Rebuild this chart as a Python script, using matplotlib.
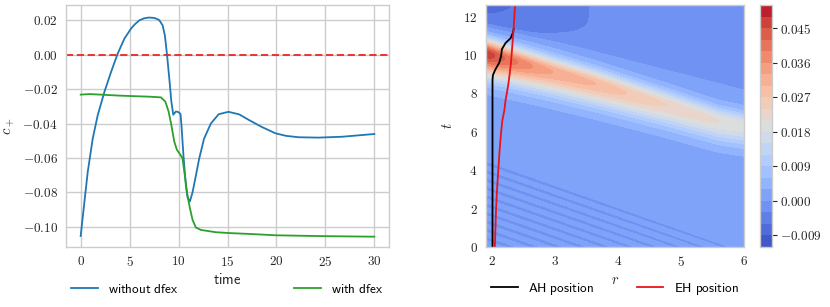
import numpy as np
import matplotlib
matplotlib.use("Agg")
import matplotlib.pyplot as plt
from matplotlib.ticker import FuncFormatter, FixedLocator

# ---------------- data: left panel (c_+ vs time) ----------------
t_without = [0, 0.38, 0.72, 1.23, 1.74, 2.42, 3.1, 3.78, 4.47, 5.15, 5.5, 6.0, 6.5, 6.96, 7.5,
             7.88, 8.04, 8.37, 8.6, 8.82, 9.05, 9.26, 9.46, 9.73, 10.0, 10.2, 10.3, 10.5,
             10.75, 10.92, 11.16, 11.43, 11.77, 12.1, 12.6, 13.3, 14.1, 15.1, 16.2, 17.2,
             18.5, 19.9, 21.0, 22.3, 24.3, 26.7, 30.0]
c_without = [-0.1054, -0.0856, -0.0682, -0.0488, -0.0352, -0.0217, -0.0101, 0.0006, 0.0094,
             0.0152, 0.0175, 0.0200, 0.0212, 0.0216, 0.0214, 0.0206, 0.0200, 0.0171, 0.0113,
             0.0000, -0.0136, -0.0271, -0.0349, -0.0330, -0.0334, -0.0345, -0.0413, -0.0587,
             -0.0762, -0.0830, -0.0853, -0.0800, -0.0703, -0.0606, -0.0489, -0.0400, -0.0346,
             -0.0332, -0.0347, -0.0380, -0.0420, -0.0457, -0.0472, -0.0480, -0.0482, -0.0477,
             -0.0461]

t_with = [0, 0.9, 2, 3, 4, 5, 6, 7.02, 7.9, 8.2, 8.65, 8.98, 9.26, 9.56, 9.83, 10.14, 10.4,
          10.68, 10.9, 11.16, 11.43, 11.77, 12.3, 13.8, 15.2, 17.2, 20, 25, 30]
c_with = [-0.0232, -0.0229, -0.0232, -0.0235, -0.0238, -0.0240, -0.0242, -0.0244, -0.0247,
          -0.0248, -0.0273, -0.0330, -0.0408, -0.0505, -0.0553, -0.0578, -0.0602, -0.0718,
          -0.0815, -0.0892, -0.0960, -0.1005, -0.1019, -0.1032, -0.1037, -0.1042, -0.1050,
          -0.1055, -0.1058]

left_labels = ["without dfex", "with dfex"]

# ---------------- data: right panel (horizons) ----------------
eh_t = [0, 1, 2, 3, 4, 5, 6, 6.6, 7.1, 7.65, 8, 8.5, 9, 9.57, 10, 10.8, 11.5, 12, 12.6]
eh_r = [2.05, 2.06, 2.07, 2.085, 2.105, 2.125, 2.15, 2.17, 2.2, 2.22, 2.24, 2.265, 2.285,
        2.305, 2.315, 2.335, 2.35, 2.36, 2.37]
ah_t = [0, 8.7, 8.95, 9.22, 9.6, 9.95, 10.3, 10.62, 10.87, 11.15, 11.35]
ah_r = [2.013, 2.013, 2.02, 2.055, 2.12, 2.15, 2.162, 2.22, 2.30, 2.335, 2.35]
right_labels = ["AH position", "EH position"]

# field description (ridge of c_+ in the (r, t) plane)
ridge_r = [1.91, 3.65, 4.77, 5.6, 6.0]          # ridge centre line
ridge_t = [10.08, 8.5, 7.4, 6.55, 6.3]
amp_r = [1.91, 2.05, 2.2, 2.41, 2.65, 2.97, 3.65, 4.14, 4.77, 5.6, 6.0]   # ridge height
amp_v = [0.046, 0.0435, 0.0405, 0.0375, 0.0345, 0.0315, 0.0285, 0.0255, 0.0225, 0.0195, 0.018]
width_r = [1.91, 6.0]
width_below = [1.15, 1.0]
width_above = [0.72, 0.68]
upper_r = [1.91, 3.71, 6.0]                      # edge of the negative upper region
upper_t = [11.6, 10.1, 8.17]
bg_levels = [0.0015, -0.0015]                    # below / above that edge
wedge_top = 4.87                                 # edge of striped lower wedge
stripe_amp = 0.0030
stripe_period = 0.435
levels = np.arange(-0.012, 0.0511, 0.003)
cbar_ticks = [-0.009, 0.0, 0.009, 0.018, 0.027, 0.036, 0.045]

# ---------------- style ----------------
plt.rcParams.update({
    "mathtext.fontset": "cm",
    "font.family": ["DejaVu Sans"],
    "axes.edgecolor": "0.8",
    "axes.linewidth": 1.0,
    "grid.color": "0.8",
    "grid.linewidth": 1.0,
    "axes.axisbelow": True,
})

fig = plt.figure(figsize=(8.3, 3.07), dpi=100)
W, H = 830.0, 307.0
ax1 = fig.add_axes([66 / W, 1 - 247 / H, (389 - 66) / W, 242 / H])
ax2 = fig.add_axes([486 / W, 1 - 247 / H, (744 - 486) / W, 242 / H])
cax = fig.add_axes([760 / W, 1 - 247 / H, 12 / W, 242 / H])

fs = 9.5
mfmt2 = FuncFormatter(lambda v, p: r"$%.2f$" % v if abs(v) > 1e-12 else r"$0.00$")
ifmt = FuncFormatter(lambda v, p: r"$%d$" % round(v))

# ---------------- left panel ----------------
ax1.plot(t_without, c_without, color="#1f77b4", lw=1.3, label=r"$\mathsf{without\ dfex}$")
ax1.plot(t_with, c_with, color="#2ca02c", lw=1.3, label=r"$\mathsf{with\ dfex}$")
ax1.axhline(0.0, color="#e8282a", ls="--", lw=1.3, dashes=(4, 2))
ax1.set_xlim(-1.5, 31.5)
ax1.set_ylim(-0.1118, 0.0289)
ax1.xaxis.set_major_locator(FixedLocator([0, 5, 10, 15, 20, 25, 30]))
ax1.yaxis.set_major_locator(FixedLocator([-0.10, -0.08, -0.06, -0.04, -0.02, 0.0, 0.02]))
ax1.xaxis.set_major_formatter(ifmt)
ax1.yaxis.set_major_formatter(mfmt2)
ax1.grid(True)
ax1.tick_params(length=0, labelsize=fs, pad=6, colors="0.15")
ax1.set_xlabel(r"$\mathsf{time}$", fontsize=fs + 1, labelpad=2, color="0.15")
ax1.set_ylabel(r"$c_+$", fontsize=fs + 1, labelpad=4, color="0.15")
ax1.legend(loc="center", bbox_to_anchor=(0, -0.174, 1, 0), mode="expand", ncol=2,
           frameon=False, fontsize=fs, borderaxespad=0, handlelength=2.0)

# ---------------- right panel ----------------
r = np.linspace(1.91, 6.0, 500)
t = np.linspace(0.0, 12.6, 700)
R, T = np.meshgrid(r, t)
tc = np.interp(R, ridge_r, ridge_t)
A = np.interp(R, amp_r, amp_v)
wb = np.interp(R, width_r, width_below)
wa = np.interp(R, width_r, width_above)
w = np.where(T < tc, wb, wa)
ridge = A * np.exp(-((T - tc) / w) ** 2)
tb = np.interp(R, upper_r, upper_t)
bg = bg_levels[0] + (bg_levels[1] - bg_levels[0]) * 0.5 * (1 + np.tanh((T - tb) / 0.12))
patch = -0.0025 * np.exp(-((R - 1.9) / 1.845) ** 6 - ((T - 12.9) / 2.01) ** 6)
corner = -0.003 * np.exp(-((R - 1.9) / 0.7) ** 2 - ((T - 12.7) / 0.9) ** 2)
u = T + 1.15 * (R - 1.92)
env = np.clip((wedge_top - u) / 0.35, 0, 1) * np.clip(1.0 - 0.08 * (R - 2.0), 0, 1)
stripes = -stripe_amp * env * (0.5 + 0.5 * np.cos(2 * np.pi * u / stripe_period))
Z = bg + ridge + patch + corner + stripes
Z = np.clip(Z, levels[0] + 1e-5, levels[-1] - 1e-5)

cf = ax2.contourf(R, T, Z, levels=levels, cmap="coolwarm")
ax2.plot(ah_r, ah_t, color="k", lw=1.3, label=r"$\mathsf{AH\ position}$")
ax2.plot(eh_r, eh_t, color="#e8141c", lw=1.3, label=r"$\mathsf{EH\ position}$")
ax2.set_xlim(1.91, 6.0)
ax2.set_ylim(0, 12.6)
ax2.xaxis.set_major_locator(FixedLocator([2, 3, 4, 5, 6]))
ax2.yaxis.set_major_locator(FixedLocator([0, 2, 4, 6, 8, 10, 12]))
ax2.xaxis.set_major_formatter(ifmt)
ax2.yaxis.set_major_formatter(ifmt)
ax2.tick_params(length=0, labelsize=fs, pad=6, colors="0.15")
ax2.set_xlabel(r"$r$", fontsize=fs + 1, labelpad=2, color="0.15")
ax2.set_ylabel(r"$t$", fontsize=fs + 1, labelpad=6, color="0.15")
ax2.legend(loc="center", bbox_to_anchor=(0, -0.174, 1, 0), mode="expand", ncol=2,
           frameon=False, fontsize=fs, borderaxespad=0, handlelength=2.0)

cb = fig.colorbar(cf, cax=cax, ticks=cbar_ticks)
cb.ax.yaxis.set_major_formatter(FuncFormatter(lambda v, p: r"$%.3f$" % v if abs(v) > 1e-12 else r"$0.000$"))
cb.ax.tick_params(length=3.5, width=0.8, color="0.15", labelsize=fs, pad=2, labelcolor="0.15")
cb.outline.set_edgecolor("0.8")
cb.ax.minorticks_off()

fig.savefig("out.png", dpi=100)
